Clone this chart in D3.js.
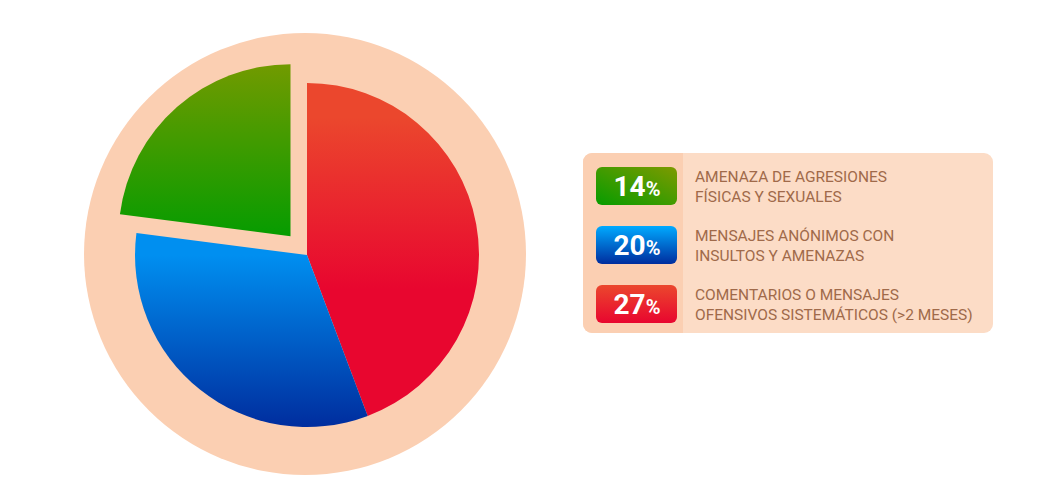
<!DOCTYPE html>
<html>
<head>
<meta charset="utf-8">
<script src="https://cdn.jsdelivr.net/npm/d3@7"></script>
<style>body{margin:0;background:#fff;font-family:Roboto,sans-serif}</style>
</head>
<body>
<div id="body"></div>
<script>
var categories = ["COMENTARIOS O MENSAJES|OFENSIVOS SISTEMÁTICOS (>2 MESES)", "MENSAJES ANÓNIMOS CON|INSULTOS Y AMENAZAS", "AMENAZA DE AGRESIONES|FÍSICAS Y SEXUALES"];
var values = [27, 20, 14];
var topColors = ["#eb472d", "#008ff0", "#7e9a00"];
var bottomColors = ["#e8062f", "#002d9e", "#069c00"];
var exploded = [false, false, true];

var w = 1055, h = 494;
var cx = 307, cy = 255, r = 172;

var svg = d3.select("#body").append("svg").attr("width", w).attr("height", h);
var defs = svg.append("defs");

values.forEach(function(v, i) {
  var g = defs.append("linearGradient").attr("id", "pg" + i)
    .attr("gradientUnits", "userSpaceOnUse")
    .attr("x1", 0).attr("y1", -r).attr("x2", 0).attr("y2", r);
  g.append("stop").attr("offset", i == 0 ? "0.1" : (i == 1 ? "0.5" : "0.6")).attr("stop-color", topColors[i]);
  g.append("stop").attr("offset", i == 0 ? "0.6" : (i == 1 ? "1" : "0.1")).attr("stop-color", bottomColors[i]);
  if (i == 2) {
    g.attr("y1", -r - 20).attr("y2", 0);
    g.selectAll("stop").remove();
    g.append("stop").attr("offset", 0).attr("stop-color", topColors[i]);
    g.append("stop").attr("offset", 1).attr("stop-color", bottomColors[i]);
  }
  var p = defs.append("linearGradient").attr("id", "lg" + i)
    .attr("x1", 0).attr("y1", 1).attr("x2", i == 2 ? 1 : 0).attr("y2", 0);
  p.append("stop").attr("offset", 0).attr("stop-color", bottomColors[i]);
  p.append("stop").attr("offset", 1).attr("stop-color", i == 1 ? "#00aaff" : topColors[i]);
});

svg.append("circle").attr("cx", cx - 2).attr("cy", cy - 1).attr("r", 221).attr("fill", "#fbcfb2");

var pie = d3.pie().sort(null).value(function(d) { return d; });
var arc = d3.arc().innerRadius(0).outerRadius(r);
var arcs = pie(values);

svg.append("g").attr("transform", "translate(" + cx + "," + cy + ")")
  .selectAll("path").data(arcs).enter().append("path")
  .attr("d", arc)
  .attr("fill", function(d, i) { return "url(#pg" + i + ")"; })
  .attr("transform", function(d, i) {
    if (!exploded[i]) return null;
    var a = (d.startAngle + d.endAngle) / 2;
    return "translate(" + (Math.sin(a) * 25) + "," + (-Math.cos(a) * 25) + ")";
  });

// legend
var lx = 583, ly = 153, lw = 410, lh = 180;
var leg = svg.append("g");
leg.append("rect").attr("x", lx).attr("y", ly).attr("width", lw).attr("height", lh).attr("rx", 9).attr("fill", "#fcdcc6");
leg.append("path").attr("d", "M" + (lx + 100) + "," + ly + "H" + (lx + 9) + "a9,9 0 0 0 -9,9V" + (ly + lh - 9) + "a9,9 0 0 0 9,9H" + (lx + 100) + "Z").attr("fill", "#fbcfb2");

var order = [2, 1, 0];
order.forEach(function(i, k) {
  var y = 167 + k * 59;
  var g = leg.append("g");
  g.append("rect").attr("x", 596).attr("y", y).attr("width", 81).attr("height", 38).attr("rx", 6).attr("fill", "url(#lg" + i + ")");
  var t = g.append("text").attr("x", 637).attr("y", y + 29).attr("text-anchor", "middle").attr("fill", "#fff").attr("font-weight", "bold");
  t.append("tspan").attr("font-size", 28).text(values[i]);
  t.append("tspan").attr("font-size", 20).text("%");
  var lines = categories[i].split("|");
  lines.forEach(function(s, j) {
    g.append("text").attr("x", 695).attr("y", y + 15 + j * 20).attr("font-size", 15.5).attr("fill", "#a06a4a").text(s);
  });
});
</script>
</body>
</html>
